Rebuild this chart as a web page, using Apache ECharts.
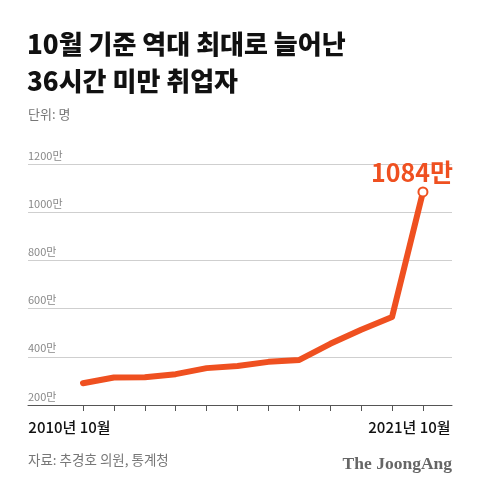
<!DOCTYPE html>
<html>
<head>
<meta charset="utf-8">
<script src="https://cdn.jsdelivr.net/npm/echarts@6/dist/echarts.min.js"></script>
<style>
html,body{margin:0;padding:0;background:#fff;}
#c{width:480px;height:498px;}
</style>
</head>
<body>
<div id="c"></div>
<script>
const years = [2010, 2011, 2012, 2013, 2014, 2015, 2016, 2017, 2018, 2019, 2020, 2021];
const values = [290, 314, 315, 328, 353, 362, 379, 387, 454, 512, 565, 1084];
const yTicks = [200, 400, 600, 800, 1000, 1200];
const xLabelIdx = [0, 11];
const titleText = '10월 기준 역대 최대로 늘어난\n36시간 미만 취업자';
const unitText = '단위: 명';
const sourceText = '자료: 추경호 의원, 통계청';
const brandText = 'The JoongAng';

const FONT = '"Noto Sans CJK KR", "Noto Sans", sans-serif';
const ORANGE = '#EF5020';

const chart = echarts.init(document.getElementById('c'), null, {renderer: 'canvas'});
const lastIdx = values.length - 1;
const seriesData = values.map((v, i) => {
  if (i === lastIdx) {
    return {
      value: [i, v],
      symbol: 'circle',
      symbolSize: 9,
      itemStyle: {color: '#fff', borderColor: ORANGE, borderWidth: 2},
      label: {
        show: true,
        position: 'top',
        distance: 1,
        offset: [-11, 0],
        formatter: p => p.value[1] + '만',
        fontFamily: FONT,
        fontSize: 25,
        fontWeight: 'bold',
        color: ORANGE
      }
    };
  }
  return {value: [i, v], symbol: 'none'};
});

chart.setOption({
  animation: false,
  backgroundColor: '#fff',
  title: [
    {
      text: titleText,
      left: 27, top: 26, padding: 0,
      textStyle: {fontFamily: FONT, fontSize: 26, fontWeight: 900, color: '#111', lineHeight: 37}
    },
    {
      text: unitText,
      left: 28, top: 108, padding: 0,
      textStyle: {fontFamily: FONT, fontSize: 13, fontWeight: 'normal', color: '#777'}
    },
    {
      text: sourceText,
      left: 28, top: 453, padding: 0,
      textStyle: {fontFamily: FONT, fontSize: 13.5, fontWeight: 'normal', color: '#777'}
    },
    {
      text: brandText,
      right: 28, top: 455, padding: 0,
      textStyle: {fontFamily: '"Liberation Serif", "DejaVu Serif", serif', fontSize: 17.5, fontWeight: 'bold', color: '#666'}
    }
  ],
  grid: {left: 28, right: 28, top: 164, bottom: 93, containLabel: false},
  xAxis: {
    type: 'value',
    min: -1.78,
    max: 11.94,
    splitLine: {show: false},
    axisLine: {show: true, lineStyle: {color: '#555', width: 1}},
    axisTick: {show: true, length: 6, lineStyle: {color: '#555', width: 1}, customValues: years.map((y, i) => i)},
    axisLabel: {
      show: true,
      customValues: xLabelIdx,
      formatter: v => years[Math.round(v)] + '년 10월',
      fontFamily: FONT,
      fontSize: 15,
      fontWeight: 500,
      color: '#111',
      margin: 15,
      padding: [0, 27, 0, 0]
    }
  },
  yAxis: {
    type: 'value',
    min: yTicks[0],
    max: yTicks[yTicks.length - 1],
    interval: 200,
    axisLine: {show: false},
    axisTick: {show: false},
    splitLine: {show: true, lineStyle: {color: '#cfcfcf', width: 1}},
    axisLabel: {
      inside: true,
      margin: 0,
      verticalAlign: 'bottom',
      padding: [0, 0, 3, 0],
      formatter: v => v + '만',
      fontFamily: FONT,
      fontSize: 11,
      color: '#888'
    }
  },
  series: [{
    type: 'line',
    data: seriesData,
    lineStyle: {color: ORANGE, width: 6, cap: 'round', join: 'round'},
    itemStyle: {color: ORANGE},
    z: 3
  }]
});
</script>
</body>
</html>
